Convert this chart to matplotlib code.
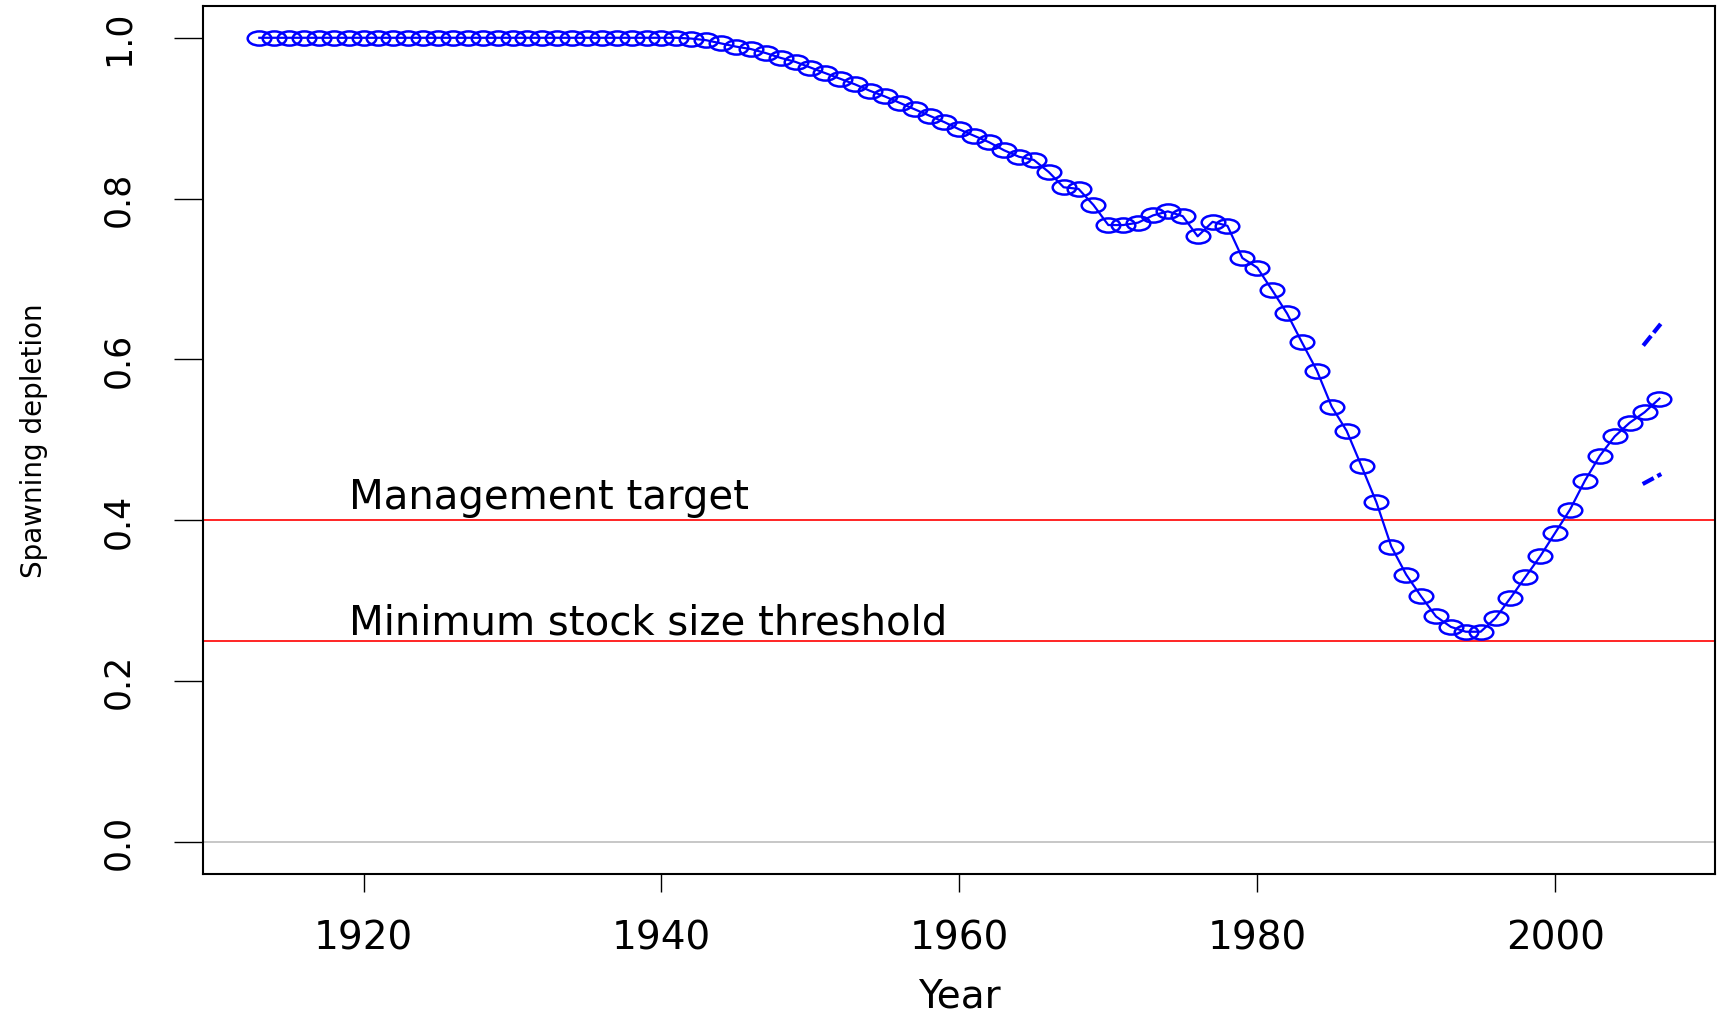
import matplotlib
matplotlib.use('Agg')
import matplotlib.pyplot as plt
from matplotlib.path import Path
import numpy as np

years = np.arange(1913, 2008)
depletion = [1.0] * 29 + [
    0.999, 0.997, 0.993, 0.989, 0.986, 0.981, 0.975, 0.970, 0.963, 0.956,   # 1942-1951
    0.949, 0.942, 0.934, 0.927, 0.919, 0.911, 0.903, 0.895, 0.886, 0.878,   # 1952-1961
    0.870, 0.860, 0.852, 0.848, 0.833, 0.814, 0.812, 0.792, 0.767, 0.767,   # 1962-1971
    0.770, 0.779, 0.784, 0.778, 0.753, 0.771, 0.766, 0.726, 0.714, 0.686,   # 1972-1981
    0.657, 0.621, 0.586, 0.541, 0.511, 0.467, 0.422, 0.367, 0.332, 0.305,   # 1982-1991
    0.280, 0.267, 0.261, 0.261, 0.278, 0.303, 0.329, 0.355, 0.384, 0.413,   # 1992-2001
    0.449, 0.480, 0.504, 0.521, 0.534, 0.551,                               # 2002-2007
]
ci_years = [2006, 2007]
ci_upper = [0.619, 0.642]
ci_lower = [0.446, 0.456]

ref_levels = [0.4, 0.25]
ref_labels = ['Management target', 'Minimum stock size threshold']
label_pos = [0.415, 0.259]

# squashed circle marker (the original figure was stretched sideways)
circ = Path.unit_circle()
ellipse = Path(circ.vertices * [1.0, 0.6], circ.codes)

fig = plt.figure(figsize=(17.23, 10.20), dpi=100)
ax = fig.add_axes([0.118, 0.1425, 0.8776, 0.851])

ax.axhline(0, color='#bebebe', lw=1.2)
for lev in ref_levels:
    ax.axhline(lev, color='red', lw=1.2)
for lab, yy in zip(ref_labels, label_pos):
    ax.text(1919, yy, lab, fontsize=29, ha='left', va='baseline',
            family='DejaVu Sans')

ax.plot(years, depletion, color='blue', lw=1.6, marker=ellipse,
        markersize=17, markerfacecolor='none', markeredgewidth=1.8)
for ci in (ci_upper, ci_lower):
    ax.plot(ci_years, ci, color='blue', lw=3, ls=(0, (2, 2)),
            dash_capstyle='projecting')

ax.set_xlim(1909.24, 2010.76)
ax.set_ylim(-0.04, 1.04)
ax.set_xticks([1920, 1940, 1960, 1980, 2000])
ax.set_yticks([0.0, 0.2, 0.4, 0.6, 0.8, 1.0])
ax.set_yticklabels(['0.0', '0.2', '0.4', '0.6', '0.8', '1.0'],
                   rotation=90, va='center', fontsize=25)
ax.tick_params(axis='x', length=13, width=1, pad=19, labelsize=28)
ax.tick_params(axis='y', length=21, width=1, pad=28)
for sp in ax.spines.values():
    sp.set_linewidth(1.5)

ax.set_xlabel('Year', fontsize=28, labelpad=15)
ax.set_ylabel('Spawning depletion', fontsize=20, labelpad=38)

fig.savefig('out.png', dpi=100)
